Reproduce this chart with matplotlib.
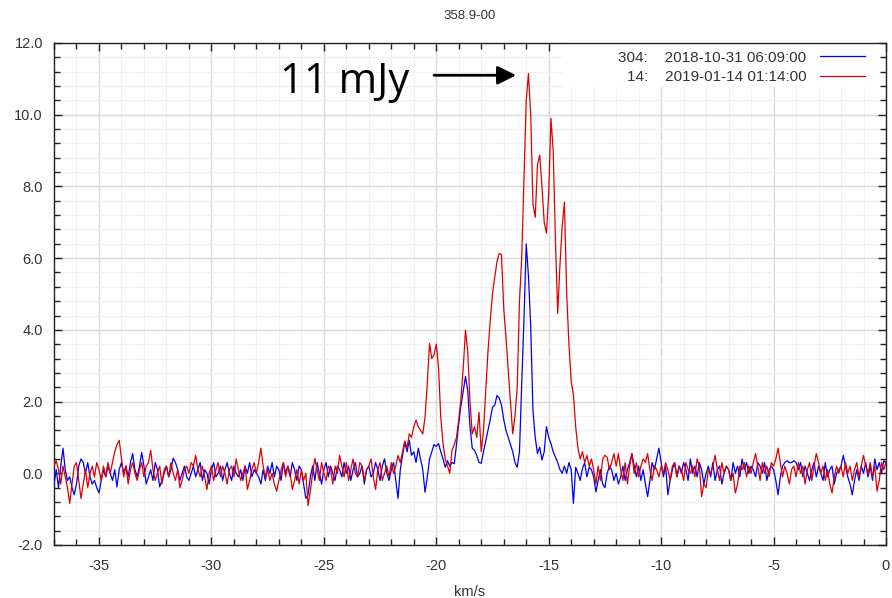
import numpy as np
import matplotlib
matplotlib.use("Agg")
import matplotlib.pyplot as plt
from matplotlib.ticker import MultipleLocator, FormatStrFormatter
from matplotlib.patches import Rectangle

# velocity channels (km/s), 0.1 km/s spacing from -37 to 0
velocity = np.round(np.arange(-37.0, 0.0001, 0.1), 1)

# series 304: 2018-10-31 06:09:00 (blue), one row per km/s
flux_304 = [
    -0.3, 0.1, -0.4, 0.2, 0.7, 0.1, -0.2, -0.1, -0.4, -0.6,
    -0.3, 0.2, 0.4, 0.3, 0.0, 0.3, -0.1, -0.3, -0.2, -0.4,
    -0.55, -0.2, 0.1, -0.1, 0.2, 0.0, -0.2, 0.1, -0.38, 0.1,
    0.3, 0.0, 0.2, -0.1, 0.3, 0.55, 0.1, -0.1, 0.2, 0.58,
    0.2, -0.3, -0.1, 0.1, -0.2, 0.3, 0.1, -0.38, -0.2, 0.0,
    0.2, -0.1, 0.1, 0.42, 0.3, 0.1, -0.2, 0.0, 0.2, -0.1,
    -0.2, 0.0, 0.2, -0.1, 0.1, 0.3, -0.2, 0.1, 0.0, -0.3,
    0.1, 0.3, -0.1, 0.0, 0.2, -0.2, 0.1, 0.3, 0.0, -0.2,
    0.2, 0.0, -0.1, 0.1, -0.2, 0.2, 0.0, 0.3, -0.1, 0.1,
    0.0, -0.1, -0.3, 0.1, -0.2, 0.2, 0.0, 0.3, -0.1, 0.2,
    0.1, -0.2, 0.3, 0.0, 0.2, -0.1, 0.3, 0.1, -0.2, 0.2,
    0.1, -0.3, -0.7, -0.6, -0.1, 0.2, -0.2, 0.3, 0.0, -0.3,
    0.1, 0.3, -0.1, 0.2, 0.0, -0.2, 0.2, 0.1, -0.1, 0.3,
    0.0, 0.2, -0.2, 0.1, 0.3, -0.1, 0.0, 0.2, -0.3, 0.1,
    0.2, -0.1, 0.0, 0.3, 0.1, -0.2, 0.2, 0.4, 0.0, -0.2,
    0.1, 0.3, -0.2, -0.7, 0.1, 0.5, 0.87, 0.6, 0.92, 0.5,
    0.6, 0.3, 0.7, 0.4, 0.1, -0.53, -0.1, 0.4, 0.6, 0.8,
    0.75, 0.83, 0.6, 0.4, 0.17, 0.35, 0.2, 0.3, 0.27, 0.8,
    1.4, 1.9, 2.3, 2.7, 2.3, 1.3, 0.7, 0.64, 0.5, 0.3,
    0.28, 0.6, 0.9, 1.2, 1.5, 1.84, 1.9, 2.17, 2.1, 1.9,
    1.5, 1.2, 1.0, 0.8, 0.6, 0.3, 0.17, 0.6, 2.5, 4.3,
    6.4, 5.5, 4.1, 1.75, 1.0, 0.55, 0.73, 0.37, 0.6, 1.3,
    1.0, 0.83, 0.6, 0.45, 0.3, 0.1, 0.0, 0.2, 0.0, 0.3,
    0.1, -0.84, 0.17, 0.0, -0.2, 0.13, 0.3, -0.1, 0.17, 0.1,
    -0.1, -0.52, -0.2, 0.1, -0.3, -0.4, 0.0, 0.2, 0.1, -0.2,
    0.0, -0.3, -0.1, 0.2, -0.2, 0.1, 0.3, 0.55, 0.2, -0.1,
    0.2, -0.2, 0.1, -0.3, -0.65, -0.2, 0.3, 0.1, 0.4, 0.7,
    0.3, -0.1, 0.2, -0.6, -0.2, 0.1, 0.3, -0.1, 0.2, 0.0,
    0.3, 0.1, -0.2, 0.4, 0.0, 0.2, -0.1, 0.3, 0.1, -0.3,
    0.0, 0.2, -0.1, 0.3, -0.2, 0.1, 0.2, -0.3, 0.0, 0.2,
    0.1, -0.2, 0.3, 0.0, 0.2, -0.1, 0.4, 0.1, 0.3, 0.0,
    0.2, 0.1, -0.1, 0.3, 0.2, 0.0, 0.3, -0.2, 0.1, 0.2,
    0.1, -0.2, -0.6, -0.1, 0.2, 0.3, 0.35, 0.3, 0.3, 0.35,
    0.3, 0.1, 0.3, -0.1, 0.2, 0.0, -0.2, 0.1, 0.3, -0.1,
    0.2, 0.0, -0.2, 0.3, -0.1, 0.1, 0.2, -0.3, 0.0, 0.1,
    0.2, 0.5, 0.2, -0.1, -0.3, -0.6, -0.2, 0.1, -0.2, 0.2,
    0.0, 0.3, -0.1, 0.2, -0.2, 0.4, 0.1, 0.3, 0.0, 0.35,
    0.3,
]

# series 14: 2019-01-14 01:14:00 (red), one row per km/s
flux_14 = [
    0.2, 0.35, 0.1, -0.3, 0.2, -0.1, -0.4, -0.84, -0.3, 0.2,
    0.3, -0.2, -0.7, -0.3, 0.1, -0.4, 0.0, 0.2, -0.1, 0.3,
    0.1, -0.2, 0.2, -0.1, 0.3, 0.0, 0.3, 0.6, 0.8, 0.92,
    0.4, -0.1, 0.2, -0.3, 0.1, 0.3, 0.0, -0.2, 0.1, 0.3,
    -0.1, 0.2, 0.3, 0.64, 0.1, -0.2, 0.0, 0.2, -0.3, 0.1,
    0.2, -0.1, 0.3, 0.0, -0.2, 0.1, -0.4, -0.2, 0.1, 0.2,
    0.0, 0.3, 0.2, 0.5, 0.1, -0.1, 0.2, -0.1, -0.45, 0.0,
    0.2, -0.2, 0.1, 0.3, -0.1, 0.2, 0.0, -0.3, 0.1, 0.2,
    -0.1, 0.4, 0.1, -0.2, 0.0, 0.2, -0.45, -0.2, 0.1, 0.3,
    0.0, 0.3, 0.7, 0.2, -0.1, 0.1, -0.2, 0.0, -0.3, -0.5,
    -0.2, 0.1, 0.3, -0.1, 0.2, 0.0, -0.45, -0.2, 0.1, -0.3,
    0.1, -0.2, 0.0, -0.9, -0.5, 0.0, 0.42, 0.1, -0.2, 0.3,
    0.0, -0.2, 0.2, 0.1, -0.3, 0.2, 0.0, 0.5, 0.2, -0.1,
    0.3, -0.2, 0.1, 0.4, 0.0, -0.1, 0.3, 0.2, -0.2, 0.1,
    0.2, 0.4, -0.1, -0.45, 0.1, 0.3, -0.2, 0.0, 0.2, -0.1,
    0.3, 0.0, 0.2, 0.5, 0.3, 0.6, 0.9, 0.7, 1.1, 1.0,
    1.3, 1.48, 1.3, 1.2, 1.1, 1.56, 2.5, 3.62, 3.2, 3.3,
    3.6, 2.95, 1.56, 0.83, 0.4, 0.2, 0.0, 0.64, 0.8, 1.0,
    1.5, 2.1, 2.95, 3.99, 3.4, 2.0, 1.1, 1.3, 1.0, 1.7,
    0.6, 1.2, 2.3, 3.4, 4.27, 5.0, 5.47, 5.9, 6.13, 6.1,
    4.6, 3.8, 2.87, 2.0, 1.1, 1.6, 2.4, 4.8, 6.0, 8.2,
    10.4, 11.15, 10.0, 7.5, 7.14, 8.6, 8.87, 8.0, 7.0, 6.7,
    7.8, 9.9, 9.0, 6.5, 4.46, 5.8, 6.9, 7.56, 5.0, 3.6,
    2.55, 2.2, 1.3, 0.7, 0.4, 0.6, 0.3, 0.5, 0.2, 0.4,
    0.1, -0.3, 0.2, -0.2, 0.4, 0.5, 0.45, 0.1, 0.3, 0.55,
    0.2, 0.55, 0.1, -0.2, 0.3, -0.3, 0.2, 0.55, 0.0, 0.3,
    -0.1, 0.2, 0.4, 0.3, 0.55, 0.1, -0.2, 0.2, 0.1, -0.1,
    0.2, 0.0, 0.3, 0.1, -0.2, 0.2, 0.3, -0.1, 0.2, 0.1,
    -0.2, 0.3, 0.1, 0.0, 0.2, -0.1, 0.4, 0.2, -0.65, -0.3,
    -0.4, 0.1, 0.0, 0.2, 0.5, 0.1, -0.2, 0.3, 0.0, 0.2,
    0.1, -0.2, 0.0, -0.55, -0.3, 0.2, 0.1, 0.3, -0.1, 0.2,
    0.0, 0.3, 0.55, 0.2, -0.2, 0.3, 0.0, 0.2, -0.1, 0.3,
    0.2, 0.4, 0.7, 0.3, -0.1, 0.2, 0.0, -0.3, 0.1, 0.2,
    -0.1, 0.3, 0.0, 0.2, -0.3, 0.1, 0.3, -0.2, 0.2, 0.55,
    0.3, 0.0, 0.2, -0.2, 0.1, -0.3, -0.55, -0.1, 0.2, 0.0,
    0.2, -0.1, 0.3, 0.0, 0.2, -0.2, 0.1, 0.3, -0.1, 0.2,
    0.5, 0.2, 0.0, 0.3, -0.1, 0.2, -0.5, -0.2, 0.3, 0.1,
    0.3,
]

labels = ["304:    2018-10-31 06:09:00", "14:    2019-01-14 01:14:00"]
title = "358.9-00"
xlabel = "km/s"
note = "11 mJy"

plt.rcParams['font.family'] = ['Liberation Sans', 'DejaVu Sans']

fig = plt.figure(figsize=(8.92, 5.98), dpi=100)
ax = fig.add_axes([54 / 892, 1 - 545 / 598, (886 - 54) / 892, (545 - 43) / 598])

ax.plot(velocity, flux_304, color='#0000ee', lw=0.9, label=labels[0], zorder=3)
ax.plot(velocity, flux_14, color='#dd0000', lw=0.9, label=labels[1], zorder=3)

ax.set_xlim(-37, 0)
ax.set_ylim(-2, 12)
ax.xaxis.set_major_locator(MultipleLocator(5))
ax.xaxis.set_minor_locator(MultipleLocator(1))
ax.yaxis.set_major_locator(MultipleLocator(2))
ax.yaxis.set_minor_locator(MultipleLocator(0.4))
ax.xaxis.set_major_formatter(FormatStrFormatter('%d'))
ax.yaxis.set_major_formatter(FormatStrFormatter('%.1f'))

ax.grid(which='major', color='#d9d9d9', lw=1.0)
ax.grid(which='minor', color='#f0f0f0', lw=0.8)
ax.set_axisbelow(True)

ax.tick_params(which='both', direction='in', top=True, right=True,
               colors='#222222', labelcolor='#333333', labelsize=10.5)
ax.tick_params(which='major', length=6, width=1)
ax.tick_params(which='minor', length=4, width=1)
ax.tick_params(axis='x', pad=10)
ax.tick_params(axis='y', pad=8)
for s in ax.spines.values():
    s.set_color('#222222')
    s.set_linewidth(1.0)

ax.set_xlabel(xlabel, fontsize=10.5, color='#333333', labelpad=9)
ax.set_title(title, fontsize=9.5, color='#333333', pad=17)

# white background panel behind the legend
ax.add_patch(Rectangle((0.61, 0.913), 0.383, 0.086, transform=ax.transAxes,
                       facecolor='white', edgecolor='none', zorder=1.5))

leg = ax.legend(loc='upper right', bbox_to_anchor=(0.975, 0.985), frameon=False,
                markerfirst=False, fontsize=11, handlelength=2.95,
                borderaxespad=0.0, labelspacing=0.35, alignment='right',
                borderpad=0.0, handletextpad=0.9)
for t in leg.get_texts():
    t.set_color('#333333')
    t.set_ha('right')

ax.text(-26.96, 10.6, note, fontsize=30, family='Open Sans', color='black',
        ha='left', va='baseline', zorder=4)
ax.annotate('', xy=(-16.45, 11.1), xytext=(-20.1, 11.1),
            arrowprops=dict(arrowstyle='-|>', lw=2, color='black',
                            mutation_scale=28, shrinkA=0, shrinkB=0), zorder=4)

fig.savefig('out.png', dpi=100, facecolor='white')
